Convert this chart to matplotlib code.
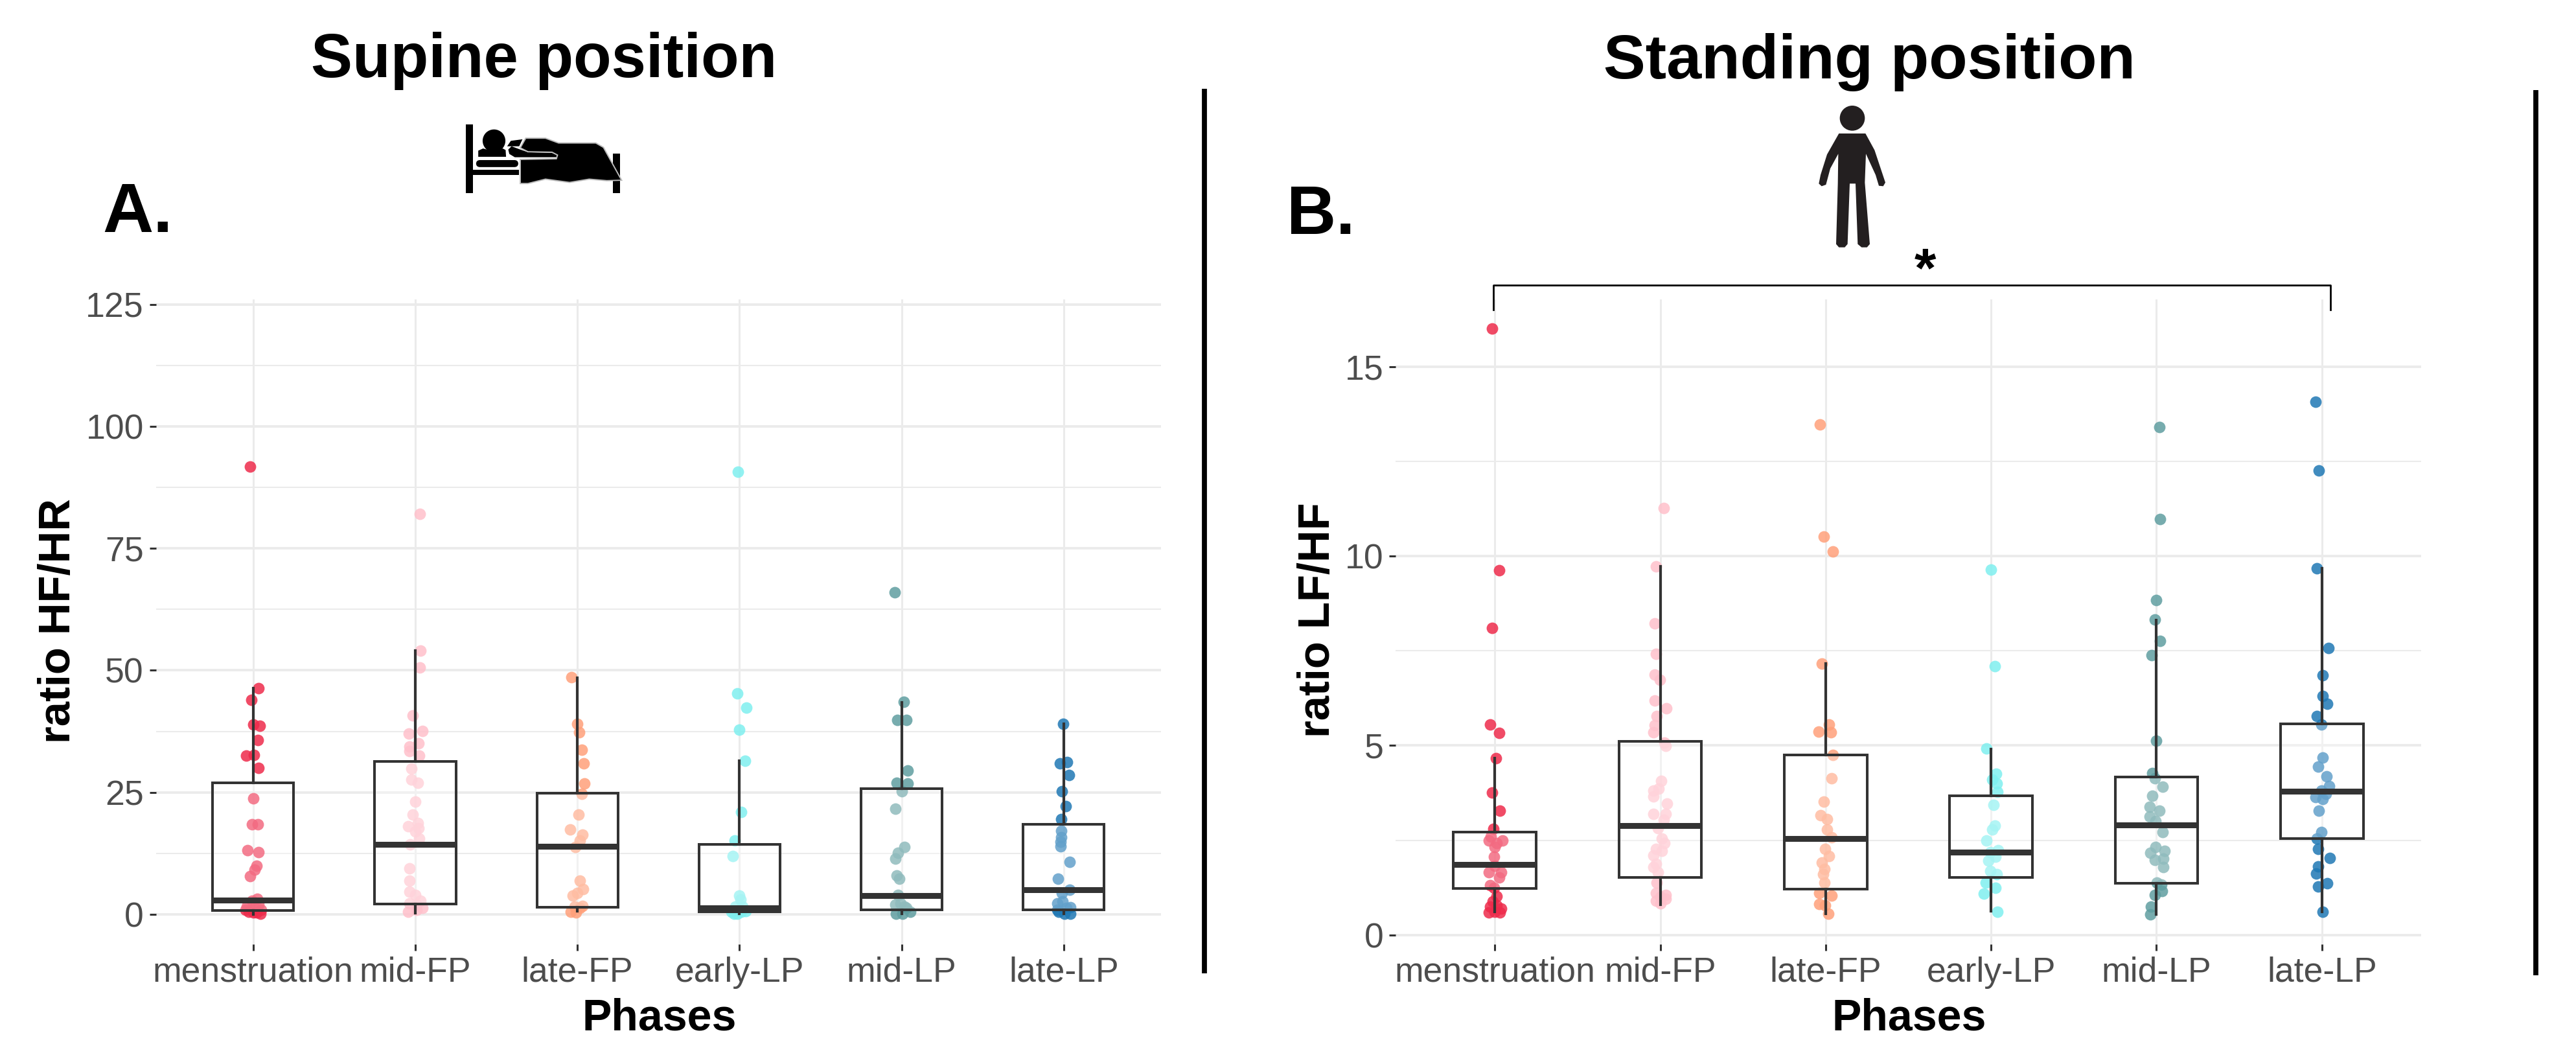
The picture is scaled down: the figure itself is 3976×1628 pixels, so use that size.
import matplotlib
matplotlib.use('Agg')
import matplotlib.pyplot as plt
from matplotlib.patches import Circle, FancyBboxPatch, Polygon, Rectangle

plt.rcParams['font.family'] = ['Liberation Sans', 'DejaVu Sans']

W, H = 3976, 1628

phases = ['menstruation', 'mid-FP', 'late-FP', 'early-LP', 'mid-LP', 'late-LP']
colors = ['#EE2B4B', '#FFC0CB', '#FFA07A', '#7FEFEF', '#5F9EA0', '#1F78B4']

# Supine position, ratio HF/HR: one list per phase, jitter is the horizontal offset
supine_y = [
    [91.8, 46.4, 44, 38.9, 38.7, 35.7, 32.5, 32.7, 30, 23.8, 18.4, 18.4, 13.1, 12.7, 10, 9.2, 7.8, 3.2, 2.8,
     1.6, 2, 1.3, 0.6, 0.2, 0.4, 0.4, 0.9, 1.0],
    [82, 54, 50.6, 40.8, 37.6, 37, 35.1, 34.4, 33.4, 32.6, 29.9, 27.6, 26.9, 23.1, 20.5, 18.7, 18, 17.7, 17,
     15.6, 14.4, 9.4, 6.9, 4.6, 4, 2.8, 2.3, 2, 1.3, 0.6, 0.9],
    [48.6, 39, 37.3, 33.7, 31, 26.8, 24.7, 20.5, 17.4, 16.4, 15.2, 13.8, 6.9, 5.2, 3.8, 4.4, 1.7, 1.6, 0.6,
     0.4, 1.3],
    [90.7, 45.3, 42.4, 37.8, 31.5, 21, 15.2, 12, 3.9, 3, 1.6, 1.6, 0.6, 0.7, 0.2, 0.1, 0.6],
    [66, 43.6, 39.9, 39.9, 29.5, 27, 26.8, 25.2, 21.7, 13.8, 12.6, 11.4, 8, 7.3, 4, 2, 2.3, 1.3, 0.6, 0.2,
     0.2, 1.6],
    [39.1, 30.9, 31.2, 28.5, 25.2, 22.2, 19.5, 17.2, 15.8, 14.9, 14, 10.8, 7.3, 5, 4.4, 2.2, 2.7, 1.5, 0.6,
     0.2, 0.2, 1.3, 0.9],
]
supine_jitter = [
    [-0.02, 0.034, -0.011, 0.0, 0.041, 0.028, -0.044, 0.007, 0.034, 0.0, -0.007, 0.028, -0.034, 0.032, 0.023,
     0.009, -0.02, 0.025, -0.007, -0.037, 0.032, 0.009, -0.025, 0.044, 0.0, 0.02, -0.048, 0.048],
    [0.03, 0.032, 0.028, -0.014, 0.044, -0.041, 0.021, -0.037, -0.034, 0.025, -0.025, -0.025, 0.016, 0.0, -0.014,
     0.016, -0.044, 0.021, 0.0, 0.025, -0.03, -0.034, -0.034, -0.037, 0.0, 0.032, -0.037, 0.009, 0.044, -0.044,
     0.009],
    [-0.037, 0.0, 0.011, 0.028, 0.041, 0.044, 0.028, 0.009, -0.044, 0.032, 0.016, -0.014, 0.014, 0.037, -0.03,
     0.0, 0.032, -0.018, -0.041, -0.007, 0.016],
    [-0.01, -0.014, 0.041, 0.0, 0.034, 0.011, -0.03, -0.041, 0.0, 0.005, -0.025, 0.02, -0.048, 0.037, -0.014,
     -0.035, 0.009],
    [-0.044, 0.014, -0.025, 0.03, 0.037, -0.03, 0.037, 0.0, -0.037, 0.018, -0.023, -0.037, -0.032, -0.016,
     -0.021, -0.039, -0.005, 0.03, 0.053, -0.034, 0.007, 0.018],
    [-0.005, -0.025, 0.021, 0.032, -0.011, 0.011, -0.016, -0.016, -0.014, -0.018, -0.018, 0.037, -0.034, 0.037,
     -0.011, -0.041, -0.007, 0.039, -0.03, 0.005, 0.039, 0.016, -0.041],
]
supine_q1 = [0.85, 2.1, 1.5, 0.56, 1, 1]
supine_med = [2.9, 14.3, 14, 1.4, 3.9, 5.1]
supine_q3 = [27, 31.3, 24.8, 14.3, 25.7, 18.4]
supine_lo = [0, 0.3, 0.7, 0.1, 0.2, 0.2]
supine_hi = [46.4, 54, 48.5, 31.5, 43.4, 39.1]

# Standing position, ratio LF/HF
standing_y = [
    [16, 9.62, 8.1, 5.55, 5.34, 4.67, 3.76, 3.29, 2.8, 2.6, 2.5, 2.42, 2.5, 2.33, 2.06, 1.83, 1.65, 1.65, 1.52,
     1.32, 1.25, 1.02, 0.88, 0.75, 0.7, 0.6, 0.61, 0.6, 0.79],
    [11.27, 9.72, 8.22, 7.42, 6.87, 6.73, 6.18, 5.98, 5.78, 5.53, 5.35, 5.08, 4.99, 4.06, 3.82, 3.86, 3.66, 3.47,
     3.2, 3.19, 3.05, 2.82, 2.55, 2.42, 2.28, 2.22, 2.1, 1.88, 1.8, 1.65, 1.38, 1.11, 1.06, 1.0, 0.9, 0.84, 0.96],
    [13.47, 10.52, 10.12, 7.17, 5.56, 5.36, 5.35, 4.76, 4.13, 3.52, 3.16, 3.06, 2.78, 2.58, 2.28, 2.08, 1.92,
     1.74, 1.61, 1.38, 1.11, 1.04, 0.82, 0.57, 0.79],
    [9.64, 7.1, 4.93, 4.25, 4.11, 4.0, 3.77, 3.43, 2.89, 2.78, 2.49, 2.24, 2.19, 2.06, 1.97, 1.7, 1.61, 1.38,
     1.25, 1.1, 0.62],
    [13.41, 10.97, 8.83, 8.32, 7.76, 7.38, 5.13, 4.27, 4.13, 3.92, 3.68, 3.39, 3.28, 3.12, 3.0, 2.72, 2.33, 2.22,
     2.17, 2.01, 1.99, 1.8, 1.38, 1.34, 1.16, 1.06, 0.75, 0.54],
    [14.07, 12.25, 9.68, 7.57, 6.85, 6.31, 6.11, 5.78, 5.55, 4.69, 4.44, 4.18, 3.93, 3.82, 3.73, 3.64, 3.59, 3.29,
     2.72, 2.54, 2.28, 2.03, 1.81, 1.63, 1.36, 1.29, 0.61],
]
standing_jitter = [
    [-0.015, 0.027, -0.017, -0.03, 0.025, 0.007, -0.015, 0.032, -0.01, -0.025, 0.045, 0.012, -0.037, 0.0, -0.005,
     0.0, -0.037, 0.037, 0.025, -0.03, -0.005, 0.012, -0.012, -0.03, 0.037, -0.037, 0.0, 0.03, 0.012],
    [0.02, -0.025, -0.032, -0.027, -0.032, -0.002, -0.032, 0.037, -0.022, -0.032, -0.04, 0.027, 0.035, 0.007,
     -0.04, -0.01, -0.04, 0.042, -0.04, 0.035, 0.022, -0.015, 0.01, 0.027, -0.027, 0.01, -0.04, -0.027, -0.04,
     -0.015, -0.022, -0.027, 0.035, 0.0, -0.027, 0.002, 0.035],
    [-0.035, -0.012, 0.042, -0.022, 0.022, -0.042, 0.032, 0.042, 0.037, -0.012, -0.032, 0.007, 0.007, 0.037,
     -0.002, 0.022, -0.022, -0.007, -0.015, -0.007, -0.04, 0.037, -0.037, 0.017, -0.002],
    [0.0, 0.022, -0.03, 0.03, 0.008, 0.035, 0.04, 0.016, 0.022, 0.008, -0.027, 0.043, -0.005, 0.027, -0.016,
     -0.005, 0.035, -0.032, 0.027, -0.043, 0.04],
    [0.016, 0.022, 0.0, -0.011, 0.022, -0.03, 0.0, -0.024, -0.011, 0.038, -0.024, -0.043, 0.016, -0.043, -0.005,
     0.038, -0.005, 0.048, -0.038, 0.043, -0.011, 0.043, 0.003, 0.03, 0.032, -0.011, -0.032, -0.038],
    [-0.038, -0.018, -0.03, 0.04, 0.005, 0.003, 0.032, -0.032, -0.003, 0.003, -0.024, 0.027, 0.043, -0.003, 0.024,
     -0.038, 0.005, -0.019, -0.003, -0.03, -0.022, 0.046, -0.024, -0.035, 0.032, -0.024, 0.003],
]
standing_q1 = [1.23, 1.52, 1.21, 1.52, 1.36, 2.55]
standing_med = [1.86, 2.88, 2.55, 2.19, 2.91, 3.8]
standing_q3 = [2.72, 5.11, 4.76, 3.68, 4.17, 5.57]
standing_lo = [0.61, 0.81, 0.57, 0.63, 0.54, 0.61]
standing_hi = [4.67, 9.72, 7.17, 4.91, 8.3, 9.68]


def px_axes(fig, left, right, top, bottom):
    return fig.add_axes([left / W, 1 - bottom / H, (right - left) / W, (bottom - top) / H])


def draw_panel(ax, ys, jitter, q1, med, q3, lo, hi, ylim, major, minor):
    for i in range(6):
        xs = [i + 1 + j for j in jitter[i]]
        ax.scatter(xs, ys[i], s=165, color=colors[i], alpha=0.85, linewidths=0, zorder=2)

    stats = [dict(med=med[i], q1=q1[i], q3=q3[i], whislo=lo[i], whishi=hi[i], fliers=[]) for i in range(6)]
    ax.bxp(stats, positions=range(1, 7), widths=0.5, showcaps=False, showfliers=False, patch_artist=True,
           boxprops=dict(facecolor=(1, 1, 1, 0.3), edgecolor='#333333', linewidth=2.9),
           whiskerprops=dict(color='#333333', linewidth=3.0),
           medianprops=dict(color='#333333', linewidth=6.5, solid_capstyle='butt'),
           zorder=3)

    ax.set_xlim(0.4, 6.6)
    ax.set_ylim(*ylim)
    ax.set_xticks(range(1, 7))
    ax.set_xticklabels(phases)
    ax.set_yticks(major)
    ax.set_yticks(minor, minor=True)
    ax.set_axisbelow(True)
    ax.grid(True, which='major', axis='y', color='#EBEBEB', linewidth=2.8)
    ax.grid(True, which='minor', axis='y', color='#EBEBEB', linewidth=1.5)
    ax.grid(True, which='major', axis='x', color='#EBEBEB', linewidth=2.2)
    ax.tick_params(axis='both', which='major', length=7.5, width=2.2, color='#333333',
                   labelcolor='#4D4D4D', labelsize=38.5, pad=6)
    ax.tick_params(axis='both', which='minor', length=0)
    for s in ax.spines.values():
        s.set_visible(False)


def draw_bed(ov):
    def p(x, y):
        return 700 + x / 2.96, 170 + y / 2.96

    def poly(pts, **kw):
        ov.add_patch(Polygon([p(*q) for q in pts], closed=True, facecolor='black', **kw))

    for x0, x1, y0, y1 in [(55, 90, 65, 378), (727, 762, 198, 378), (90, 300, 272, 297)]:
        a, b = p(x0, y0), p(x1, y1)
        ov.add_patch(Rectangle(a, b[0] - a[0], b[1] - a[1], facecolor='black', edgecolor='none'))
    a, b = p(103, 228), p(296, 260)
    ov.add_patch(FancyBboxPatch(a, b[0] - a[0], b[1] - a[1], boxstyle='round,pad=0,rounding_size=6',
                                facecolor='black', edgecolor='none'))
    poly([(113, 185), (135, 175), (180, 187), (225, 175), (238, 182), (240, 213), (113, 213)], edgecolor='none')
    cx, cy = p(185, 140)
    ov.add_patch(Circle((cx, cy), 52 / 2.96, facecolor='black', edgecolor='none'))
    poly([(245, 165), (262, 140), (315, 133), (300, 165), (262, 165)], edgecolor='none')
    poly([(250, 180), (265, 165), (300, 178), (340, 192), (450, 195), (472, 205), (472, 215), (280, 215),
          (255, 200)], edgecolor='none')
    poly([(305, 225), (470, 222), (475, 205), (450, 192), (340, 190), (305, 172), (330, 128), (420, 128),
          (480, 150), (650, 150), (685, 170), (768, 320), (700, 322), (620, 315), (530, 330), (420, 315),
          (340, 335), (305, 335)], edgecolor='#BBBBBB', linewidth=1.4)


def draw_person(ov):
    def p(x, y):
        return 2760 + x / 3, 150 + y / 3

    cx, cy = p(297, 97)
    ov.add_patch(Circle((cx, cy), 58 / 3, facecolor='#231F20', edgecolor='none'))
    body = [(235, 168), (358, 168), (400, 245), (435, 350), (450, 395), (440, 412), (420, 410), (405, 360),
            (360, 262), (355, 395), (378, 680), (365, 695), (340, 695), (322, 680), (312, 400), (285, 400),
            (275, 680), (262, 695), (235, 695), (222, 680), (230, 400), (232, 262), (195, 330), (175, 405),
            (155, 412), (142, 400), (150, 360), (180, 265)]
    ov.add_patch(Polygon([p(*q) for q in body], closed=True, facecolor='#231F20', edgecolor='none'))


fig = plt.figure(figsize=(W / 100, H / 100), dpi=100, facecolor='white')

ax_a = px_axes(fig, 240.6, 1792, 462, 1457)
draw_panel(ax_a, supine_y, supine_jitter, supine_q1, supine_med, supine_q3, supine_lo, supine_hi,
           (-6.1, 126), [0, 25, 50, 75, 100, 125], [12.5, 37.5, 62.5, 87.5, 112.5])

ax_b = px_axes(fig, 2154, 3737, 462, 1457)
draw_panel(ax_b, standing_y, standing_jitter, standing_q1, standing_med, standing_q3, standing_lo, standing_hi,
           (-0.24, 16.77), [0, 5, 10, 15], [2.5, 7.5, 12.5])

# significance bracket from the first to the last phase
ax_b.plot([0.99, 0.99, 6.05, 6.05], [16.5, 17.15, 17.15, 16.5], color='black', linewidth=2.0, clip_on=False,
          zorder=4)
ax_b.text(3.6, 17.48, '*', ha='center', va='center', fontsize=62, fontweight='bold', clip_on=False)

# overlay in pixel coordinates for separators, headings and icons
ov = fig.add_axes([0, 0, 1, 1], facecolor='none')
ov.set_xlim(0, W)
ov.set_ylim(H, 0)
ov.axis('off')

ov.plot([1859, 1859], [137, 1502], color='black', linewidth=5.6, solid_capstyle='butt')
ov.plot([3914, 3914], [139, 1505], color='black', linewidth=5.6, solid_capstyle='butt')

ov.text(840, 119, 'Supine position', ha='center', va='baseline', fontsize=69, fontweight='bold')
ov.text(2885, 121, 'Standing position', ha='center', va='baseline', fontsize=70, fontweight='bold')
ov.text(158, 358, 'A.', ha='left', va='baseline', fontsize=78, fontweight='bold')
ov.text(1986, 361, 'B.', ha='left', va='baseline', fontsize=76, fontweight='bold')

ov.text(1018, 1589, 'Phases', ha='center', va='baseline', fontsize=49, fontweight='bold')
ov.text(2947, 1589, 'Phases', ha='center', va='baseline', fontsize=49, fontweight='bold')
ov.text(108, 958, 'ratio HF/HR', rotation=90, ha='center', va='baseline', rotation_mode='anchor', fontsize=49.5,
        fontweight='bold')
ov.text(2052, 957, 'ratio LF/HF', rotation=90, ha='center', va='baseline', rotation_mode='anchor', fontsize=49.5,
        fontweight='bold')

draw_bed(ov)
draw_person(ov)

fig.savefig('out.png', dpi=100)
